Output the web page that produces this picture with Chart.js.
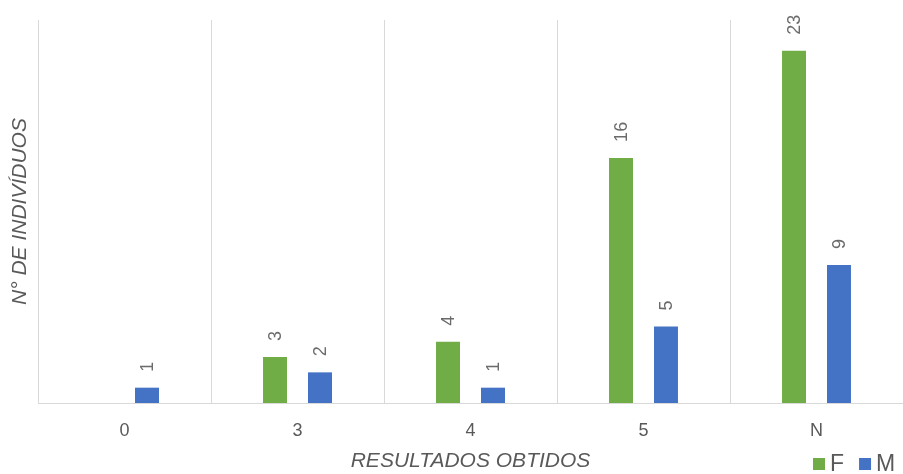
<!DOCTYPE html>
<html>
<head>
<meta charset="utf-8">
<script src="https://cdn.jsdelivr.net/npm/chart.js@4/dist/chart.umd.min.js"></script>
<style>
    html, body { margin: 0; padding: 0; background: #fff; }
    #wrap { width: 903px; height: 474px; }
</style>
</head>
<body>
<div id="wrap"><canvas id="resultadosChart" width="903" height="474"></canvas></div>
<script>
    var categorias = ['0', '3', '4', '5', 'N'];
    var valoresF = [null, 3, 4, 16, 23];
    var valoresM = [1, 2, 1, 5, 9];
    var corF = '#70AD47';
    var corM = '#4472C4';
    var cinza = '#595959';
    var fonte = "'Liberation Sans', Arial, sans-serif";

    // rotated value labels above each bar
    var rotulosPlugin = {
        id: 'rotulos',
        afterDatasetsDraw: function (chart) {
            var ctx = chart.ctx;
            ctx.save();
            ctx.fillStyle = '#6b6b6b';
            ctx.font = '18px ' + fonte;
            ctx.textAlign = 'left';
            ctx.textBaseline = 'middle';
            chart.data.datasets.forEach(function (ds, i) {
                var meta = chart.getDatasetMeta(i);
                meta.data.forEach(function (bar, j) {
                    var v = ds.data[j];
                    if (v === null || v === undefined) return;
                    ctx.save();
                    ctx.translate(bar.x, bar.y - 16);
                    ctx.rotate(-Math.PI / 2);
                    ctx.fillText(String(v), 0, 1);
                    ctx.restore();
                });
            });
            ctx.restore();
        }
    };

    // legend sits on the same row as the x axis title, right aligned
    var legendaPlugin = {
        id: 'legenda',
        afterDraw: function (chart) {
            var ctx = chart.ctx;
            var y = 464;
            var x = 813;
            ctx.save();
            ctx.font = '23px ' + fonte;
            ctx.textBaseline = 'middle';
            ctx.textAlign = 'left';
            chart.data.datasets.forEach(function (ds) {
                ctx.fillStyle = ds.backgroundColor;
                ctx.fillRect(x, y - 6, 12, 12);
                ctx.fillStyle = cinza;
                ctx.fillText(ds.label, x + 17, y + 1);
                x += 17 + ctx.measureText(ds.label).width + 15;
            });
            ctx.restore();
        }
    };

    var ctx = document.getElementById('resultadosChart').getContext('2d');
    var resultadosChart = new Chart(ctx, {
        type: 'bar',
        data: {
            labels: categorias,
            datasets: [{
                label: 'F',
                data: valoresF,
                backgroundColor: corF,
                categoryPercentage: 0.52,
                barPercentage: 0.533
            }, {
                label: 'M',
                data: valoresM,
                backgroundColor: corM,
                categoryPercentage: 0.52,
                barPercentage: 0.533
            }]
        },
        options: {
            responsive: false,
            maintainAspectRatio: false,
            animation: false,
            layout: { padding: { top: 20, left: 4, right: 0, bottom: 0 } },
            plugins: {
                legend: { display: false },
                tooltip: { enabled: false }
            },
            scales: {
                x: {
                    afterFit: function (scale) { scale.height = 71; },
                    grid: { color: '#D9D9D9', drawTicks: false, offset: true },
                    border: { color: '#D9D9D9', width: 1 },
                    ticks: { color: cinza, font: { family: fonte, size: 18 }, padding: 17 },
                    title: {
                        display: true,
                        text: 'RESULTADOS OBTIDOS',
                        color: cinza,
                        font: { family: fonte, size: 21, style: 'italic' },
                        padding: { top: 6, bottom: 0 }
                    }
                },
                y: {
                    min: 0,
                    max: 25,
                    afterFit: function (scale) { scale.width = 34; },
                    grid: { display: false, drawTicks: false },
                    border: { display: false },
                    ticks: { display: false },
                    title: {
                        display: true,
                        text: 'N° DE INDIVÍDUOS',
                        color: cinza,
                        font: { family: fonte, size: 21, style: 'italic' },
                        padding: { top: 4, bottom: 4 }
                    }
                }
            }
        },
        plugins: [rotulosPlugin, legendaPlugin]
    });
</script>
</body>
</html>
